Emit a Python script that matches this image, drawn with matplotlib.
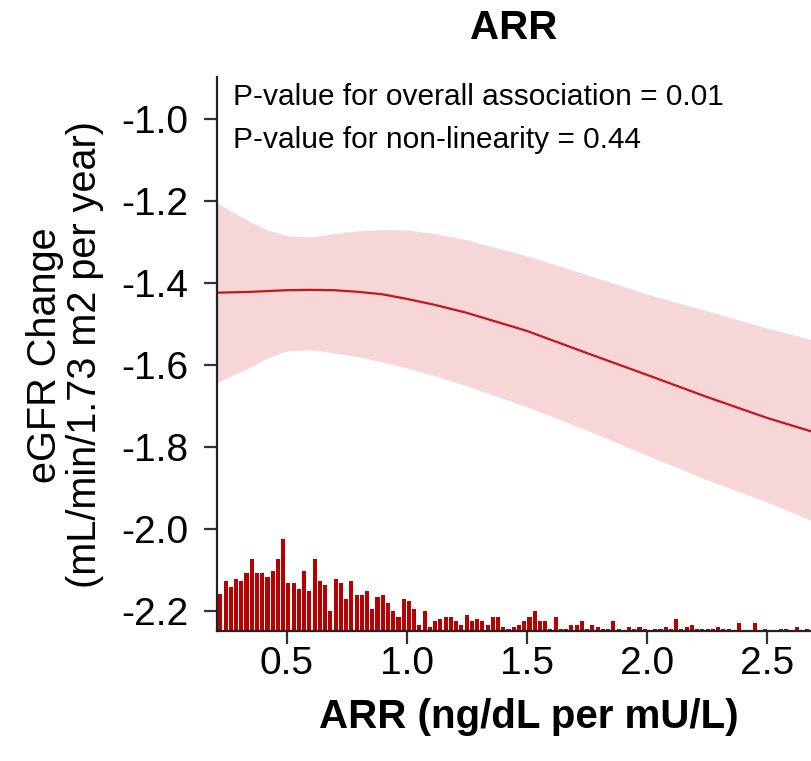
import numpy as np
import matplotlib
matplotlib.use("Agg")
import matplotlib.pyplot as plt

plt.rcParams['font.family'] = ['Liberation Sans', 'DejaVu Sans']

# ---- data ----
x_grid = [0.21, 0.28, 0.35, 0.42, 0.50, 0.60, 0.70, 0.80, 0.90, 1.00, 1.12, 1.25,
          1.50, 1.75, 2.00, 2.25, 2.50, 2.69]
fit    = [-1.424, -1.423, -1.422, -1.420, -1.418, -1.417, -1.418, -1.422, -1.428, -1.439,
          -1.454, -1.473, -1.517, -1.571, -1.624, -1.678, -1.729, -1.763]
upper  = [-1.205, -1.229, -1.251, -1.271, -1.285, -1.288, -1.280, -1.273, -1.270, -1.271,
          -1.280, -1.295, -1.334, -1.380, -1.427, -1.468, -1.510, -1.539]
lower  = [-1.644, -1.624, -1.605, -1.583, -1.566, -1.563, -1.571, -1.580, -1.593, -1.607,
          -1.627, -1.651, -1.702, -1.759, -1.820, -1.880, -1.934, -1.980]

hist_counts = [37, 50, 44, 52, 50, 58, 72, 58, 58, 54, 60, 72, 92, 48, 48, 42, 60, 40, 72, 50,
               46, 20, 52, 48, 32, 50, 36, 36, 40, 22, 34, 36, 28, 20, 14, 32, 30, 22, 6, 20,
               4, 10, 12, 14, 14, 10, 6, 16, 10, 12, 10, 6, 14, 14, 4, 2, 4, 6, 10, 14,
               20, 10, 10, 2, 14, 2, 2, 6, 6, 10, 2, 6, 4, 2, 2, 10, 2, 0, 4, 2,
               4, 2, 0, 2, 2, 4, 2, 12, 2, 4, 6, 2, 2, 2, 2, 4, 2, 2, 0, 8,
               0, 0, 8, 0, 2, 0, 0, 2, 2, 0, 4, 0, 2, 0]
hist_start = 0.213
hist_binwidth = 0.02183

y_ticks = [-2.2, -2.0, -1.8, -1.6, -1.4, -1.2, -1.0]
x_ticks = [0.5, 1.0, 1.5, 2.0, 2.5]
xlim = (0.21, 2.689)
ylim = (-2.249, -0.898)

title = "ARR"
xlabel = "ARR (ng/dL per mU/L)"
ylabel1 = "eGFR Change"
ylabel2 = "(mL/min/1.73 m2 per year)"
p_overall = "P-value for overall association = 0.01"
p_nonlin = "P-value for non-linearity = 0.44"

# ---- figure ----
W, H = 812, 761
fig = plt.figure(figsize=(W / 100, H / 100), dpi=100)
ax = fig.add_axes([217 / W, 1 - 631 / H, 1 - 217 / W, (631 - 77) / H])

band_col = '#F6D6D7'
line_col = '#C4161C'
bar_col = '#B70000'

ax.fill_between(x_grid, lower, upper, color=band_col, lw=0, zorder=1)
ax.plot(x_grid, fit, color=line_col, lw=1.6, zorder=3)

counts = np.array(hist_counts, dtype=float)
centers = hist_start + hist_binwidth * (np.arange(len(counts)) + 0.5)
scale = 0.2244 / counts.max()
ax.bar(centers, counts * scale, width=hist_binwidth * 0.78, bottom=ylim[0],
       color=bar_col, lw=0, zorder=2)

ax.set_xlim(*xlim)
ax.set_ylim(*ylim)
ax.set_xticks(x_ticks)
ax.set_xticklabels([f"{v:.1f}" for v in x_ticks])
ax.set_yticks(y_ticks)
ax.set_yticklabels([f"{v:.1f}" for v in y_ticks])

for s in ['top', 'right']:
    ax.spines[s].set_visible(False)
for s in ['left', 'bottom']:
    ax.spines[s].set_linewidth(1.6)
    ax.spines[s].set_color('#222222')
    ax.spines[s].set_zorder(5)

ax.tick_params(axis='both', direction='out', length=9.5, width=1.6, color='#333333',
               labelsize=28, labelcolor='black')
ax.tick_params(axis='y', pad=11)
ax.tick_params(axis='x', pad=1)

fig.text(233 / W, 1 - 97 / H, p_overall, fontsize=21.5, ha='left', va='center')
fig.text(233 / W, 1 - 140 / H, p_nonlin, fontsize=21.5, ha='left', va='center')

fig.text(514 / W, 1 - 28 / H, title, fontsize=29, fontweight='bold', ha='center', va='center')
fig.text(529 / W, 1 - 717 / H, xlabel, fontsize=29, fontweight='bold', ha='center', va='center')
fig.text(45 / W, 1 - 355 / H, ylabel1, fontsize=28.5, rotation=90, ha='center', va='center')
fig.text(85 / W, 1 - 355 / H, ylabel2, fontsize=28.5, rotation=90, ha='center', va='center')

fig.savefig('out.png', dpi=100)
